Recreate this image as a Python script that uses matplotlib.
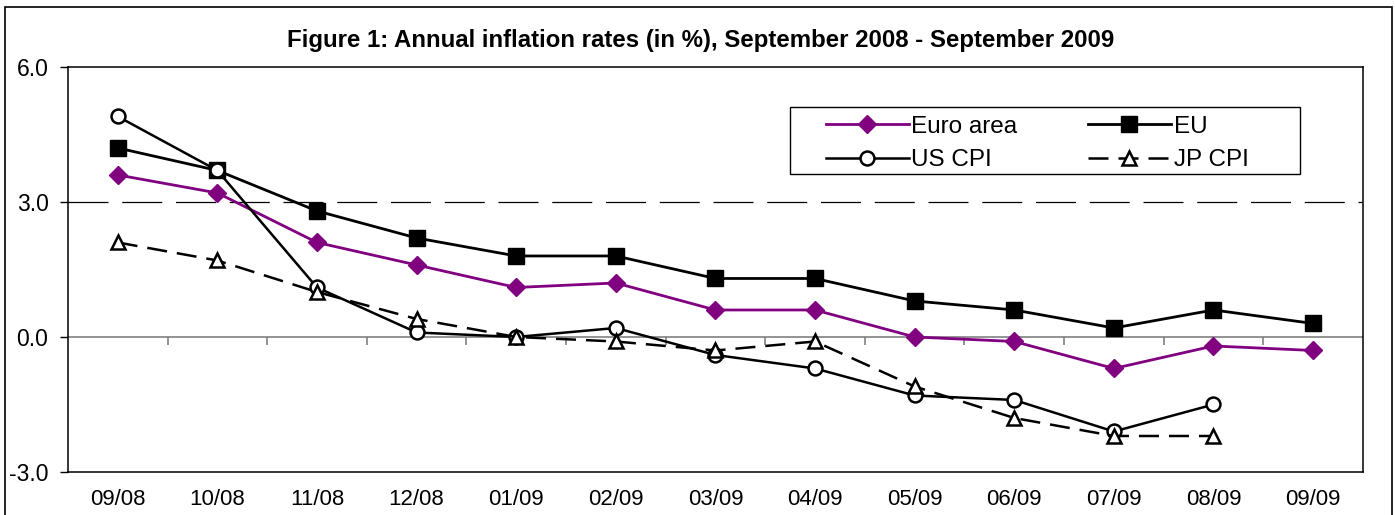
import matplotlib
matplotlib.use("Agg")
import matplotlib.pyplot as plt
import numpy as np
from matplotlib.patches import Rectangle

plt.rcParams['font.family'] = ['Liberation Sans', 'DejaVu Sans']

months = ["09/08", "10/08", "11/08", "12/08", "01/09", "02/09", "03/09",
          "04/09", "05/09", "06/09", "07/09", "08/09", "09/09"]
euro_area = [3.6, 3.2, 2.1, 1.6, 1.1, 1.2, 0.6, 0.6, 0.0, -0.1, -0.7, -0.2, -0.3]
eu = [4.2, 3.7, 2.8, 2.2, 1.8, 1.8, 1.3, 1.3, 0.8, 0.6, 0.2, 0.6, 0.3]
us_cpi = [4.9, 3.7, 1.1, 0.1, 0.0, 0.2, -0.4, -0.7, -1.3, -1.4, -2.1, -1.5, np.nan]
jp_cpi = [2.1, 1.7, 1.0, 0.4, 0.0, -0.1, -0.3, -0.1, -1.1, -1.8, -2.2, -2.2, np.nan]
yticks = [-3.0, 0.0, 3.0, 6.0]

fig = plt.figure(figsize=(13.95, 5.15), dpi=100)
ax = fig.add_axes([0.0487, 0.0835, 0.9283, 0.7865])

x = np.arange(len(months))

# gridline at 3 and zero axis line
ax.axhline(3.0, color='black', lw=0.9, dashes=(32, 11), zorder=1)
ax.axhline(0.0, color='#808080', lw=1.2, zorder=1)
bounds = np.arange(len(months) - 1) + 0.5
ax.plot(bounds, np.zeros_like(bounds), ls='none', marker=3, ms=6,
        mew=1.2, color='#808080', zorder=1)

l1, = ax.plot(x, euro_area, color='#800080', lw=2, marker='D', ms=9.5,
              mfc='#800080', mec='#800080', label='Euro area', zorder=3)
l2, = ax.plot(x, eu, color='black', lw=2, marker='s', ms=11,
              mfc='black', label='EU', zorder=3)
l3, = ax.plot(x, us_cpi, color='black', lw=1.8, marker='o', ms=10,
              mfc='white', mew=1.8, label='US CPI', zorder=4)
l4, = ax.plot(x, jp_cpi, color='black', lw=1.8, marker='^', ms=10,
              mfc='white', mew=1.8, dashes=(8, 4), label='JP CPI', zorder=4)

ax.set_xlim(-0.5, len(months) - 0.5)
ax.set_ylim(-3, 6)
ax.set_yticks(yticks)
ax.set_yticklabels([f"{v:.1f}" for v in yticks], fontsize=16.5)
ax.set_xticks(x)
ax.set_xticklabels(months, fontsize=16)
ax.tick_params(axis='x', length=0, pad=12)
ax.tick_params(axis='y', length=6, width=1, direction='out', pad=8)
for s in ax.spines.values():
    s.set_linewidth(1.1)

# legend box drawn separately so the inner padding can be wide
ax.add_patch(Rectangle((0.5575, 0.7358), 0.3939, 0.1654, transform=ax.transAxes,
                       facecolor='white', edgecolor='black', lw=1.0, zorder=5))
leg = ax.legend([l1, l3, l2, l4], ['Euro area', 'US CPI', 'EU', 'JP CPI'],
                ncol=2, loc='upper left', bbox_to_anchor=(0.5853, 0.879),
                borderaxespad=0, borderpad=0, fontsize=17.5, handlelength=3.4,
                handletextpad=0.12, frameon=False, labelspacing=0.46,
                columnspacing=2.9)
leg.set_zorder(6)

fig.text(0.502, 0.922, "Figure 1: Annual inflation rates (in %), September 2008 - September 2009",
         ha='center', va='center', fontsize=17.3, fontweight='bold')

fig.patches.append(Rectangle((5 / 1395, -0.02), 1387 / 1395, 1 - 7 / 515 + 0.02,
                             transform=fig.transFigure, fill=False,
                             edgecolor='black', lw=1.2))

fig.savefig("out.png", dpi=100)
